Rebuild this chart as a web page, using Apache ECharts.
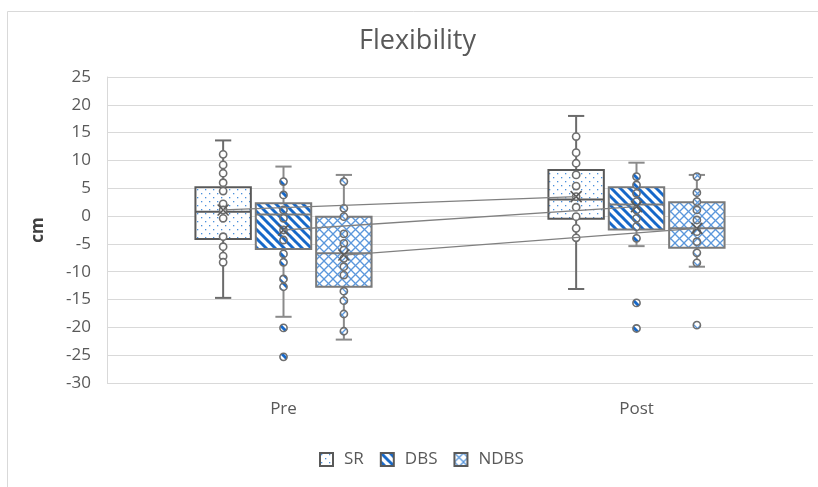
<!DOCTYPE html>
<html><head><meta charset="utf-8">
<script src="https://cdn.jsdelivr.net/npm/echarts@6/dist/echarts.min.js"></script>
<style>html,body{margin:0;padding:0;background:#fff}#c{width:818px;height:487px}</style>
</head><body><div id="c"></div>
<script>
// ---------- data ----------
const categories = ['Pre', 'Post'];
const seriesNames = ['SR', 'DBS', 'NDBS'];
const yMin = -30, yMax = 25, yInterval = 5;
// per category: [min, q1, median, q3, max, mean]
const srBoxes   = [[-14.7, -4.1, 0.8, 5.2, 13.6, 1.1], [-13.1, -0.5, 3.0, 8.3, 18.0, 3.5]];
const dbsBoxes  = [[-18.1, -5.9, 0.3, 2.3, 8.9, -2.5], [-5.4, -2.4, 2.1, 5.2, 9.6, 1.7]];
const ndbsBoxes = [[-22.2, -12.7, -6.7, -0.1, 7.4, -7.0], [-9.1, -5.7, -2.2, 2.5, 7.4, -2.2]];
// inner points per category
const srPoints   = [[11.1, 9.2, 7.7, 6.0, 4.5, 2.2, 1.1, -0.4, -3.7, -5.5, -7.2, -8.3],
                    [14.3, 11.4, 9.5, 7.4, 5.4, 3.5, 1.6, -0.1, -2.2, -3.9]];
const dbsPoints  = [[6.2, 3.8, 1.1, -0.4, -2.5, -4.3, -6.8, -8.3, -11.3, -12.7],
                    [7.1, 5.6, 4.1, 2.6, 1.1, -0.4, -1.9, -4.0]];
const ndbsPoints = [[6.2, 1.4, -0.1, -3.2, -4.9, -6.1, -7.6, -9.1, -10.6, -13.5, -15.2, -17.6, -20.7],
                    [7.1, 4.2, 2.6, 1.1, -0.7, -2.8, -4.6, -6.6, -8.4]];
// outliers per category
const srOutliers   = [[], []];
const dbsOutliers  = [[-20.1, -25.3], [-15.6, -20.2]];
const ndbsOutliers = [[], [-19.6]];

// ---------- styles ----------
const GROUP_STEP = 0.171, BOX_W = 0.157, CAP_W = 0.046;
function makePattern(kind) {
  const c = document.createElement('canvas');
  const s = kind === 'dots' ? 8 : 9;
  c.width = c.height = s;
  const g = c.getContext('2d');
  g.fillStyle = '#fff'; g.fillRect(0, 0, s, s);
  if (kind === 'dots') {
    g.fillStyle = '#4a8fdb';
    g.fillRect(1, 1, 1.3, 1.3); g.fillRect(5, 5, 1.3, 1.3);
  } else if (kind === 'stripes') {
    g.strokeStyle = '#1668c9'; g.lineWidth = 3;
    for (const k of [-s, 0, s]) { g.beginPath(); g.moveTo(k - 1, -1); g.lineTo(k + s + 1, s + 1); g.stroke(); }
  } else {
    g.strokeStyle = '#5b97dc'; g.lineWidth = 1.3;
    for (const k of [-s, 0, s]) {
      g.beginPath(); g.moveTo(k - 1, -1); g.lineTo(k + s + 1, s + 1); g.stroke();
      g.beginPath(); g.moveTo(k - 1, s + 1); g.lineTo(k + s + 1, -1); g.stroke();
    }
  }
  return { image: c, repeat: 'repeat' };
}
const patterns = [makePattern('dots'), makePattern('stripes'), makePattern('cross')];
const boxStroke = ['#595959', '#7a7a7a', '#7a7a7a'];
const whiskerStroke = ['#6b6b6b', '#8a8a8a', '#8a8a8a'];
const pointFill = ['#fff', patterns[1], patterns[2]];
const allBoxes = [srBoxes, dbsBoxes, ndbsBoxes];
const allPoints = [srPoints, dbsPoints, ndbsPoints];
const allOutliers = [srOutliers, dbsOutliers, ndbsOutliers];

function boxRender(g) {
  return function (params, api) {
    const cat = api.value(0);
    const band = api.size([1, 0])[0];
    const cx = api.coord([cat, 0])[0] + (g - 1) * band * GROUP_STEP;
    const y = v => api.coord([cat, v])[1];
    const hw = band * BOX_W / 2, cw = band * CAP_W / 2;
    const mn = api.value(1), q1 = api.value(2), md = api.value(3), q3 = api.value(4), mx = api.value(5), mean = api.value(6);
    const ws = { stroke: whiskerStroke[g], lineWidth: 2 };
    const ch = [
      { type: 'line', shape: { x1: cx, y1: y(mx), x2: cx, y2: y(q3) }, style: ws },
      { type: 'line', shape: { x1: cx, y1: y(q1), x2: cx, y2: y(mn) }, style: ws },
      { type: 'line', shape: { x1: cx - cw, y1: y(mx), x2: cx + cw, y2: y(mx) }, style: ws },
      { type: 'line', shape: { x1: cx - cw, y1: y(mn), x2: cx + cw, y2: y(mn) }, style: ws },
      { type: 'rect', shape: { x: cx - hw, y: y(q3), width: hw * 2, height: y(q1) - y(q3) },
        style: { fill: patterns[g], stroke: boxStroke[g], lineWidth: 2 } },
      { type: 'line', shape: { x1: cx - hw, y1: y(md), x2: cx + hw, y2: y(md) }, style: { stroke: boxStroke[g], lineWidth: 2 } }
    ];
    const pts = allPoints[g][cat].concat(allOutliers[g][cat]);
    pts.forEach(v => ch.push({ type: 'circle', shape: { cx: cx, cy: y(v), r: 3.6 },
      style: { fill: pointFill[g], stroke: '#6e6e6e', lineWidth: 1.6 } }));
    const m = 5.5, my = y(mean);
    ch.push({ type: 'line', shape: { x1: cx - m, y1: my - m, x2: cx + m, y2: my + m }, style: { stroke: '#595959', lineWidth: 1.6 } });
    ch.push({ type: 'line', shape: { x1: cx - m, y1: my + m, x2: cx + m, y2: my - m }, style: { stroke: '#595959', lineWidth: 1.6 } });
    return { type: 'group', children: ch };
  };
}

const series = seriesNames.map((name, g) => ({
  name: name,
  type: 'custom',
  renderItem: boxRender(g),
  itemStyle: { color: patterns[g], borderColor: '#595959', borderWidth: 1.5 },
  encode: { x: 0, y: [1, 2, 3, 4, 5, 6] },
  data: allBoxes[g].map((b, i) => [i].concat(b)),
  z: 2
}));
// mean lines
series.push({
  name: 'meanLines',
  type: 'custom',
  silent: true,
  z: 3,
  encode: { x: 0, y: [1, 2] },
  data: allBoxes.map((b, g) => [0, b[0][5], b[1][5], g]),
  renderItem: function (params, api) {
    const band = api.size([1, 0])[0];
    const g = api.value(3);
    const off = (g - 1) * band * GROUP_STEP;
    const p1 = api.coord([0, api.value(1)]), p2 = api.coord([1, api.value(2)]);
    return { type: 'line', shape: { x1: p1[0] + off, y1: p1[1], x2: p2[0] + off, y2: p2[1] },
      style: { stroke: '#808080', lineWidth: 1.3 } };
  }
});

const chart = echarts.init(document.getElementById('c'), null, { renderer: 'canvas' });
chart.setOption({
  animation: false,
  backgroundColor: '#fff',
  textStyle: { fontFamily: 'Open Sans' },
  graphic: [{ type: 'rect', shape: { x: 7.5, y: 11.5, width: 830, height: 500 },
    style: { fill: 'none', stroke: '#d9d9d9', lineWidth: 1 }, silent: true }],
  title: { text: 'Flexibility', left: 354, top: 23,
    textStyle: { fontFamily: 'Open Sans', fontSize: 27, fontWeight: 'normal', color: '#595959' } },
  legend: {
    data: seriesNames, left: 314, top: 446, icon: 'rect', itemWidth: 13, itemHeight: 13, itemGap: 16,
    textStyle: { fontFamily: 'Open Sans', fontSize: 17, color: '#595959', padding: [0, 0, 0, 6] }
  },
  grid: { left: 107, right: 5, top: 77, bottom: 104 },
  xAxis: {
    type: 'category', data: categories,
    axisLine: { show: false }, axisTick: { show: false },
    axisLabel: { color: '#595959', fontSize: 17, margin: 18, fontFamily: 'Open Sans' }
  },
  yAxis: {
    type: 'value', min: yMin, max: yMax, interval: yInterval,
    axisLine: { show: true, lineStyle: { color: '#d9d9d9' } },
    axisTick: { show: false },
    splitLine: { lineStyle: { color: '#d9d9d9' } },
    axisLabel: { color: '#595959', fontSize: 17, margin: 16, fontFamily: 'Open Sans' },
    name: 'cm', nameLocation: 'middle', nameGap: 60,
    nameTextStyle: { fontFamily: 'Open Sans', fontWeight: 'bold', fontSize: 17, color: '#404040' }
  },
  series: series
});
</script></body></html>
